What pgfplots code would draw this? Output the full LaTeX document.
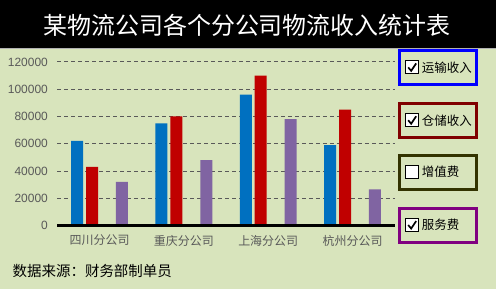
\documentclass[border=0pt]{standalone}
\usepackage{pgfplots}
\pgfplotsset{compat=1.18}
\usepackage{fontspec}
\setmainfont{Liberation Sans}
\newfontfamily\cjk{Noto Sans CJK SC}
\definecolor{bg}{HTML}{D8E4BC}
\definecolor{cblue}{HTML}{0070C0}
\definecolor{cred}{HTML}{C00000}
\definecolor{cpurple}{HTML}{8064A2}
\definecolor{tgray}{HTML}{595959}
\definecolor{lb1}{HTML}{0000FF}
\definecolor{lb2}{HTML}{800000}
\definecolor{lb3}{HTML}{333300}
\definecolor{lb4}{HTML}{800080}
\newcommand{\legbox}[4]{% top y px, color, text, checked
  \draw[#2, line width=3pt] (399.5pt,{(290-#1-1.5)*1pt}) rectangle (476.5pt,{(290-#1-35.5)*1pt});
  \fill[white] (406pt,{(290-#1-12)*1pt}) rectangle (419pt,{(290-#1-25)*1pt});
  \draw[black, line width=0.8pt] (406pt,{(290-#1-12)*1pt}) rectangle (419pt,{(290-#1-25)*1pt});
  \ifnum#4=1
    \draw[black, line width=1.7pt] (408.5pt,{(290-#1-18.5)*1pt}) -- (411.5pt,{(290-#1-22)*1pt}) -- (416.5pt,{(290-#1-14.5)*1pt});
  \fi
  \node[anchor=west, inner sep=0pt, font=\cjk\fontsize{12.5}{14}\selectfont] at (422pt,{(290-#1-18.5)*1pt}) {#3};
}
\begin{document}
\begin{tikzpicture}
\fill[bg] (0pt,0pt) rectangle (496pt,290pt);
\fill[black] (0pt,241pt) rectangle (496pt,290pt);
\draw[gray!60, line width=1pt] (0pt,241pt) -- (496pt,241pt);
\node[text=white, font=\cjk\fontsize{24}{28}\selectfont] at (247pt,265pt) {某物流公司各个分公司物流收入统计表};
\begin{axis}[
  at={(57pt,64pt)}, anchor=south west,
  width=338pt, height=164pt, scale only axis,
  xmin=-0.5, xmax=3.5, ymin=0, ymax=120000,
  axis line style={draw=none},
  major tick length=0pt,
  xtick={0,1,2,3},
  xticklabels={四川分公司,重庆分公司,上海分公司,杭州分公司},
  xticklabel style={font=\cjk\fontsize{12}{14}\selectfont, text=tgray, yshift=-6pt},
  ytick={0,20000,40000,60000,80000,100000,120000},
  scaled y ticks=false,
  /pgf/number format/fixed,
  /pgf/number format/1000 sep={},
  /pgf/number format/assume math mode=true,
  yticklabel style={font=\fontsize{12}{13}\selectfont, text=tgray, xshift=-6pt},
  ymajorgrids,
  major grid style={tgray, dash pattern=on 4pt off 3pt, line width=0.9pt},
  clip=false,
]
\addplot[ybar, bar width=0.142, bar shift=-0.266, fill=cblue, draw=none] coordinates {(0,62000) (1,75000) (2,96000) (3,59000)};
\addplot[ybar, bar width=0.142, bar shift=-0.089, fill=cred, draw=none] coordinates {(0,43000) (1,80000) (2,110000) (3,85000)};
\addplot[ybar, bar width=0.142, bar shift=0.266, fill=cpurple, draw=none] coordinates {(0,32000) (1,48000) (2,78000) (3,26500)};
\draw[black, line width=2.5pt] (axis cs:-0.5,0) -- (axis cs:3.5,0);
\end{axis}
\legbox{49}{lb1}{运输收入}{1}
\legbox{102}{lb2}{仓储收入}{1}
\legbox{154}{lb3}{增值费}{0}
\legbox{207}{lb4}{服务费}{1}
\node[anchor=west, inner sep=0pt, font=\cjk\fontsize{14.5}{16}\selectfont] at (12pt,18pt) {数据来源：财务部制单员};
\end{tikzpicture}
\end{document}
